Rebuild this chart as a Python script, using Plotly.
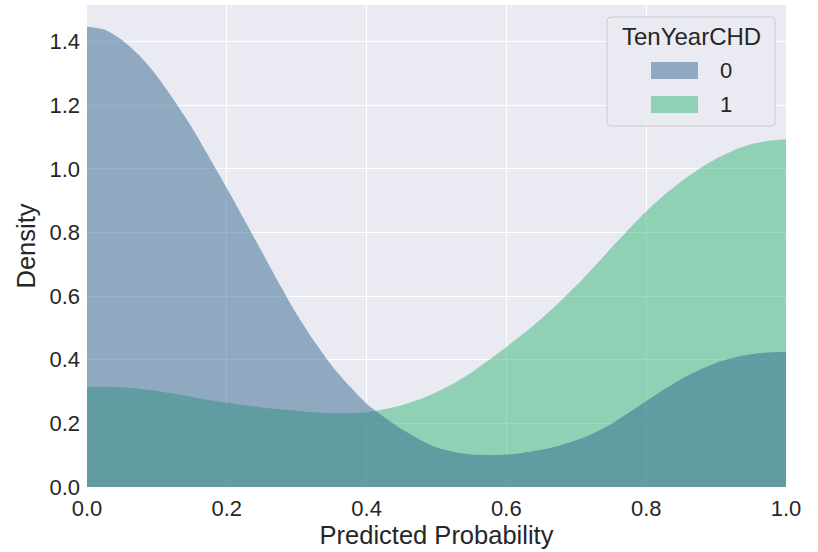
import plotly.graph_objects as go

x_grid = [0.000, 0.025, 0.050, 0.075, 0.100, 0.125, 0.150, 0.175, 0.200, 0.225,
          0.250, 0.275, 0.300, 0.325, 0.350, 0.375, 0.400, 0.425, 0.450, 0.475,
          0.500, 0.525, 0.550, 0.575, 0.600, 0.625, 0.650, 0.675, 0.700, 0.725,
          0.750, 0.775, 0.800, 0.825, 0.850, 0.875, 0.900, 0.925, 0.950, 0.975,
          1.000]

density_0 = [1.447, 1.438, 1.405, 1.356, 1.292, 1.214, 1.130, 1.036, 0.940, 0.840,
             0.740, 0.639, 0.543, 0.458, 0.382, 0.318, 0.262, 0.220, 0.182, 0.150,
             0.124, 0.110, 0.102, 0.100, 0.102, 0.108, 0.117, 0.130, 0.147, 0.169,
             0.198, 0.233, 0.270, 0.306, 0.339, 0.367, 0.390, 0.406, 0.417, 0.423,
             0.425]

density_1 = [0.315, 0.315, 0.313, 0.309, 0.302, 0.293, 0.283, 0.273, 0.265, 0.257,
             0.250, 0.244, 0.239, 0.235, 0.232, 0.232, 0.235, 0.244, 0.257, 0.275,
             0.298, 0.326, 0.360, 0.399, 0.440, 0.483, 0.529, 0.579, 0.633, 0.691,
             0.751, 0.810, 0.866, 0.916, 0.960, 0.999, 1.032, 1.058, 1.077, 1.088,
             1.093]

labels = ["0", "1"]
legend_title = "TenYearCHD"
colors = ["rgba(49,104,142,0.5)", "rgba(53,183,121,0.5)"]

x_ticks = [0.0, 0.2, 0.4, 0.6, 0.8, 1.0]
y_ticks = [0.0, 0.2, 0.4, 0.6, 0.8, 1.0, 1.2, 1.4]

text_color = "#262626"
font_family = "Liberation Sans, Arial, sans-serif"

W, H = 818, 552
ML, MR, MT, MB = 87, 32, 5, 65
PW, PH = W - ML - MR, H - MT - MB


def px(xp):
    return (xp - ML) / PW


def py(yp):
    return (H - MB - yp) / PH


fig = go.Figure()
# class 1 drawn first so class 0 overlays it (as in the reference)
fig.add_trace(go.Scatter(
    x=x_grid, y=density_1, name=labels[1], mode="lines",
    line=dict(width=0, shape="spline", smoothing=0.7),
    fill="tozeroy", fillcolor=colors[1], showlegend=False,
))
fig.add_trace(go.Scatter(
    x=x_grid, y=density_0, name=labels[0], mode="lines",
    line=dict(width=0, shape="spline", smoothing=0.7),
    fill="tozeroy", fillcolor=colors[0], showlegend=False,
))

# ---- legend drawn by hand (box, title, patches, labels) ----
bx0, bx1, by0, by1, r = 607, 775, 17, 126, 4
x0, x1, y0, y1 = px(bx0), px(bx1), py(by0), py(by1)
rx, ry = r / PW, r / PH
path = (f"M {x0+rx},{y0} L {x1-rx},{y0} Q {x1},{y0} {x1},{y0-ry} "
        f"L {x1},{y1+ry} Q {x1},{y1} {x1-rx},{y1} L {x0+rx},{y1} "
        f"Q {x0},{y1} {x0},{y1+ry} L {x0},{y0-ry} Q {x0},{y0} {x0+rx},{y0} Z")
shapes = [dict(type="path", path=path, xref="paper", yref="paper",
               fillcolor="rgba(234,234,242,0.8)",
               line=dict(color="#cccccc", width=1), layer="above")]
annotations = [dict(text=legend_title, x=px(691), y=py(37), xref="paper", yref="paper",
                    showarrow=False, xanchor="center", yanchor="middle",
                    font=dict(size=24, color=text_color, family=font_family))]
patch_rows = [(62, 79), (96, 113)]
for (t, b), lab, col in zip(patch_rows, labels, colors):
    shapes.append(dict(type="rect", xref="paper", yref="paper",
                       x0=px(651), x1=px(698), y0=py(b), y1=py(t),
                       fillcolor=col, line=dict(width=0), layer="above"))
    annotations.append(dict(text=lab, x=px(718), y=py((t + b) / 2), xref="paper", yref="paper",
                            showarrow=False, xanchor="left", yanchor="middle",
                            font=dict(size=22, color=text_color, family=font_family)))

fig.update_layout(
    width=W, height=H,
    margin=dict(l=ML, r=MR, t=MT, b=MB),
    paper_bgcolor="white",
    plot_bgcolor="#EAEAF2",
    font=dict(family=font_family, color=text_color, size=22),
    showlegend=False,
    shapes=shapes,
    annotations=annotations,
    xaxis=dict(
        range=[0, 1], tickvals=x_ticks, tickformat=".1f",
        showgrid=True, gridcolor="white", gridwidth=1.3,
        zeroline=False, showline=False, ticks="", ticklabelstandoff=6,
        title=dict(text="Predicted Probability", font=dict(size=25.5), standoff=4),
        tickfont=dict(size=22),
        automargin=False,
    ),
    yaxis=dict(
        range=[0, 1.515], tickvals=y_ticks, tickformat=".1f",
        showgrid=True, gridcolor="white", gridwidth=1.3,
        zeroline=False, showline=False, ticks="", ticklabelstandoff=6,
        title=dict(text="Density", font=dict(size=25.5), standoff=6),
        tickfont=dict(size=22),
        automargin=False,
    ),
)

fig.write_html("out.html")
